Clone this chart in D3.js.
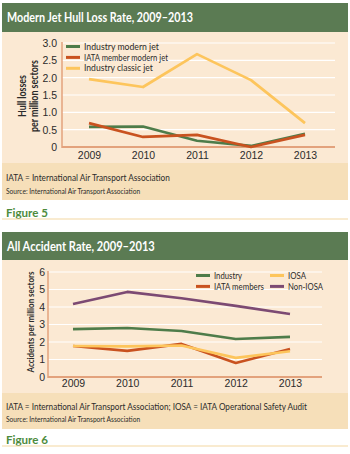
<!DOCTYPE html>
<html><head><meta charset="utf-8">
<script src="https://cdn.jsdelivr.net/npm/d3@7"></script>
<style>
html,body{margin:0;padding:0;background:#fff;}
svg{display:block;font-family:Lato,"Noto Sans",sans-serif;}
</style></head>
<body>
<svg id="c" width="350" height="454"></svg>
<script>
// ---- data ----
const years = ["2009","2010","2011","2012","2013"];

// Figure 5: Modern Jet Hull Loss Rate
const fig5Title = "Modern Jet Hull Loss Rate, 2009–2013";
const fig5Ticks = [0, 0.5, 1, 1.5, 2, 2.5, 3];
const fig5TickLabels = ["0","0.5","1.0","1.5","2.0","2.5","3.0"];
const industryModernJet = [0.58, 0.59, 0.18, 0.03, 0.38];
const iataMemberModernJet = [0.69, 0.29, 0.35, 0.0, 0.35];
const industryClassicJet = [1.96, 1.73, 2.68, 1.93, 0.69];
const fig5Names = ["Industry modern jet", "IATA member modern jet", "Industry classic jet"];

// Figure 6: All Accident Rate
const fig6Title = "All Accident Rate, 2009–2013";
const fig6Ticks = [0, 1, 2, 3, 4, 5, 6];
const fig6TickLabels = ["0","1","2","3","4","5","6"];
const industryAll = [2.74, 2.80, 2.63, 2.17, 2.29];
const iataMembers = [1.77, 1.49, 1.89, 0.80, 1.60];
const iosa = [1.77, 1.75, 1.80, 1.09, 1.47];
const nonIosa = [4.17, 4.86, 4.50, 4.06, 3.60];
const fig6Names = ["Industry", "IATA members", "IOSA", "Non-IOSA"];

// ---- style ----
const C = {
  header: "#5b7b53", chartBg: "#fbe9d3", noteBg: "#f6dfb9",
  axis: "#e3a27c", grid: "#ffffff", text: "#2b2b2b",
  green: "#4e7c4a", orange: "#c9521f", yellow: "#fdc55c", purple: "#7c4a73",
  figLabel: "#4d8b3c", rule: "#f4d8a2"
};

const svg = d3.select("#c");

// place a text at (x,y), optionally rotated, squeezed horizontally to width w
function label(g, px, py, str, size, w, opts = {}) {
  const t = g.append("text").attr("x", 0).attr("y", 0)
    .attr("font-size", size).attr("fill", opts.fill || C.text)
    .attr("font-weight", opts.weight || "normal")
    .attr("text-anchor", opts.anchor || "start")
    .attr("dy", opts.dy || 0).text(str);
  const len = t.node().getComputedTextLength();
  let s = 1;
  if (len > 0) s = w / len;
  if (s > 1.05) { t.attr("font-size", (size * Math.min(s, 1.15)).toFixed(2)); s = Math.max(1, s / 1.15); }
  const rot = opts.rotate ? ` rotate(${opts.rotate})` : "";
  t.attr("transform", `translate(${px},${py})${rot} scale(${s.toFixed(3)},1)`);
  return t;
}

function panel(o) {
  const g = svg.append("g");
  // header
  g.append("rect").attr("x", 2).attr("y", o.top).attr("width", 346).attr("height", o.headerH).attr("fill", C.header);
  label(g, 7, o.top + o.headerH / 2, o.title, 13.8, o.titleW, {fill: "#fff", weight: "bold", dy: "0.36em"});
  // chart bg
  const cTop = o.top + o.headerH;
  g.append("rect").attr("x", 2).attr("y", cTop).attr("width", 346).attr("height", o.noteTop - cTop).attr("fill", C.chartBg);
  g.append("rect").attr("x", 2).attr("y", o.noteTop).attr("width", 346).attr("height", o.noteBottom - o.noteTop).attr("fill", C.noteBg);

  const x = d3.scalePoint().domain(years).range(o.xRange);
  const y = d3.scaleLinear().domain(o.yDomain).range(o.yRange);

  // gridlines
  g.append("g").selectAll("line").data(o.ticks.slice(1)).join("line")
    .attr("x1", o.axisX).attr("x2", o.gridEnd)
    .attr("y1", d => y(d)).attr("y2", d => y(d))
    .attr("stroke", C.grid).attr("stroke-width", 1.2);

  // y axis labels
  const yAxis = d3.axisLeft(y).tickValues(o.ticks).tickFormat((d, i) => o.tickLabels[i]).tickSize(0).tickPadding(0);
  const ya = g.append("g").attr("transform", `translate(${o.tickLabelX},0)`).call(yAxis);
  ya.select(".domain").remove();
  ya.selectAll("text").attr("font-size", 10.5).attr("fill", C.text).attr("font-family", "inherit");

  // x axis labels
  const xAxis = d3.axisBottom(x).tickSize(0).tickPadding(0);
  const xa = g.append("g").attr("transform", `translate(0,${o.xLabelY})`).call(xAxis);
  xa.select(".domain").remove();
  xa.selectAll("text").attr("font-size", 10.5).attr("fill", C.text).attr("font-family", "inherit").attr("dy", "0");

  // axis lines
  g.append("line").attr("x1", o.axisX).attr("x2", o.axisX).attr("y1", y(o.yDomain[1]) - 1).attr("y2", y(0) + 1)
    .attr("stroke", C.axis).attr("stroke-width", 1.5);
  g.append("line").attr("x1", o.axisX).attr("x2", o.gridEnd).attr("y1", y(0)).attr("y2", y(0))
    .attr("stroke", C.axis).attr("stroke-width", 1.8);

  // y title
  o.yTitle.forEach((tt, i) => {
    label(g, o.yTitleX[i], o.yTitleY, tt, o.yTitleSize, o.yTitleW[i],
      {weight: "bold", anchor: "middle", dy: "0.35em", rotate: -90});
  });

  // lines
  const line = d3.line().x((d, i) => x(years[i])).y(d => y(d));
  o.series.forEach(s => {
    g.append("path").datum(s.values).attr("d", line).attr("fill", "none")
      .attr("stroke", s.color).attr("stroke-width", 2.7).attr("stroke-linejoin", "round");
  });

  // legend
  o.legend.forEach(l => {
    g.append("line").attr("x1", l.x).attr("x2", l.x + 14).attr("y1", l.y).attr("y2", l.y)
      .attr("stroke", l.color).attr("stroke-width", 3);
    label(g, l.x + 18, l.y, l.name, 9, l.w, {dy: "0.35em"});
  });

  // notes
  label(g, 6, o.note1Y, o.note1, 9.8, o.note1W);
  label(g, 6, o.note2Y, "Source: International Air Transport Association", 7.4, 134);

  // figure label
  label(g, 6, o.figY, o.figLabel, 12, 42, {fill: C.figLabel, weight: "bold"});
  g.append("line").attr("x1", 2).attr("x2", 348).attr("y1", o.figY + 2).attr("y2", o.figY + 2)
    .attr("stroke", C.rule).attr("stroke-width", 1.2);
}

panel({
  top: 3, headerH: 29, noteTop: 163, noteBottom: 200,
  title: fig5Title, titleW: 186,
  xRange: [89, 305], yDomain: [0, 3], yRange: [147, 43],
  ticks: fig5Ticks, tickLabels: fig5TickLabels,
  axisX: 62, gridEnd: 335, tickLabelX: 57, xLabelY: 159,
  yTitle: ["Hull losses", "per million sectors"], yTitleX: [22, 34], yTitleY: 96, yTitleW: [42, 72], yTitleSize: 10.5,
  series: [
    {values: industryModernJet, color: C.green},
    {values: iataMemberModernJet, color: C.orange},
    {values: industryClassicJet, color: C.yellow}
  ],
  legend: [
    {name: fig5Names[0], color: C.green, x: 66, y: 46.5, w: 75},
    {name: fig5Names[1], color: C.orange, x: 66, y: 57.4, w: 84},
    {name: fig5Names[2], color: C.yellow, x: 66, y: 68.3, w: 69}
  ],
  note1: "IATA = International Air Transport Association", note1Y: 181, note1W: 164, note2Y: 194,
  figLabel: "Figure 5", figY: 217
});

panel({
  top: 232, headerH: 28, noteTop: 393, noteBottom: 429,
  title: fig6Title, titleW: 148,
  xRange: [73, 290], yDomain: [0, 6], yRange: [377, 272],
  ticks: fig6Ticks, tickLabels: fig6TickLabels,
  axisX: 48, gridEnd: 322, tickLabelX: 45, xLabelY: 387,
  yTitle: ["Accidents per million sectors"], yTitleX: [30], yTitleY: 322, yTitleW: [101], yTitleSize: 10,
  series: [
    {values: industryAll, color: C.green},
    {values: iataMembers, color: C.orange},
    {values: iosa, color: C.yellow},
    {values: nonIosa, color: C.purple}
  ],
  legend: [
    {name: fig6Names[0], color: C.green, x: 196, y: 275.5, w: 28},
    {name: fig6Names[1], color: C.orange, x: 196, y: 286.4, w: 50},
    {name: fig6Names[2], color: C.yellow, x: 270, y: 275.5, w: 18},
    {name: fig6Names[3], color: C.purple, x: 270, y: 286.4, w: 35}
  ],
  note1: "IATA = International Air Transport Association; IOSA = IATA Operational Safety Audit", note1Y: 410, note1W: 301, note2Y: 422,
  figLabel: "Figure 6", figY: 444
});
</script>
</body></html>
